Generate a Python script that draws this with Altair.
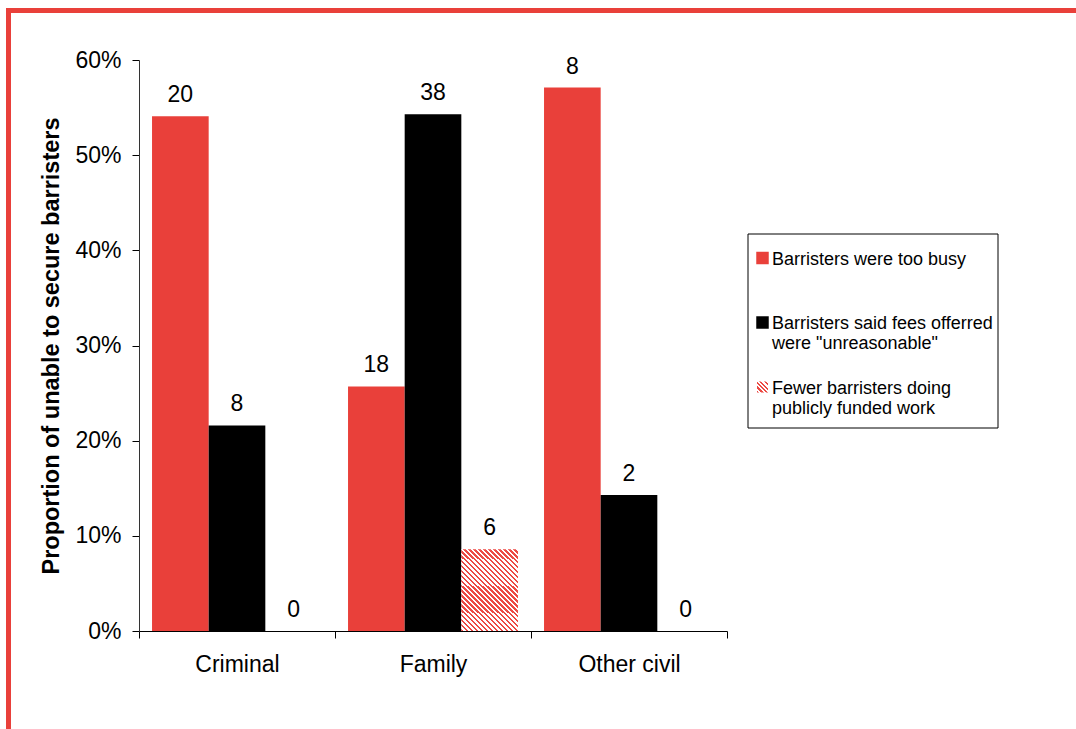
import altair as alt
import pandas as pd

categories = ["Criminal", "Family", "Other civil"]
series = [
    "Barristers were too busy",
    "Barristers said fees offerred were \"unreasonable\"",
    "Fewer barristers doing publicly funded work",
]
legend_labels = [
    "Barristers were too busy",
    "Barristers said fees offerred\nwere \"unreasonable\"",
    "Fewer barristers doing\npublicly funded work",
]
busy_pct = [0.541, 0.257, 0.571]
fees_pct = [0.216, 0.543, 0.143]
fewer_pct = [0.0, 0.086, 0.0]
busy_n = [20, 18, 8]
fees_n = [8, 38, 2]
fewer_n = [0, 6, 0]
y_ticks = [0, 0.1, 0.2, 0.3, 0.4, 0.5, 0.6]

RED = "#E9403A"
HATCH_RED = "#EC4A44"
FONT = "Liberation Sans"

rows = []
for i, c in enumerate(categories):
    for s, vals, ns in zip(series, [busy_pct, fees_pct, fewer_pct], [busy_n, fees_n, fewer_n]):
        rows.append({"cat": c, "series": s, "value": vals[i], "count": str(ns[i])})
df = pd.DataFrame(rows)
leg = pd.DataFrame({"series": series, "label": legend_labels, "order": [0, 1, 2]})


def stripes(n):
    stops = []
    for i in range(n):
        a, m, b = i / n, (i + 0.5) / n, (i + 1) / n
        stops += [
            alt.GradientStop(color=HATCH_RED, offset=a),
            alt.GradientStop(color=HATCH_RED, offset=m),
            alt.GradientStop(color="#ffffff", offset=m),
            alt.GradientStop(color="#ffffff", offset=b),
        ]
    return stops


grad_bar = alt.LinearGradient(gradient="linear", x1=0, y1=1, x2=0.781, y2=-0.149, stops=stripes(28))
grad_sq = alt.LinearGradient(gradient="linear", x1=0, y1=1, x2=1, y2=0, stops=stripes(5))

x_enc = alt.X(
    "cat:N",
    sort=categories,
    scale=alt.Scale(paddingInner=0, paddingOuter=0),
    axis=alt.Axis(
        title=None, labelAngle=0, tickBand="extent", tickSize=7, tickColor="#000",
        domainColor="#000", labelFontSize=23, labelFont=FONT, labelColor="#000",
        labelPadding=15,
    ),
)
xo_enc = alt.XOffset("series:N", sort=series,
                     scale=alt.Scale(domain=series, paddingInner=0, paddingOuter=0.23))
y_enc = alt.Y(
    "value:Q",
    scale=alt.Scale(domain=[0, 0.6], nice=False),
    axis=alt.Axis(
        values=y_ticks, format=".0%", title="Proportion of unable to secure barristers",
        titleFontSize=23.5, titleFont=FONT, titleFontWeight="bold", titleColor="#000",
        titlePadding=11, labelFontSize=23, labelFont=FONT, labelColor="#000",
        labelPadding=11, tickSize=7, tickColor="#000", domainColor="#333", grid=False,
    ),
)
fill_scale = alt.Scale(domain=series[:2], range=[RED, "#000000"])

base = alt.Chart(df)
bars = base.transform_filter(alt.datum.series != series[2]).mark_bar().encode(
    x=x_enc, xOffset=xo_enc, y=y_enc,
    fill=alt.Fill("series:N", scale=fill_scale, legend=None),
)
hatch = base.transform_filter(alt.datum.series == series[2]).mark_bar(fill=grad_bar).encode(
    x=x_enc, xOffset=xo_enc, y=y_enc,
)
labels = base.mark_text(fontSize=23, font=FONT, color="#000", baseline="alphabetic", dy=-14).encode(
    x=x_enc, xOffset=xo_enc, y=y_enc, text="count:N",
)
main = alt.layer(bars, hatch, labels)

legend_y = alt.Y("order:Q", scale=alt.Scale(domain=[0, 2], range=[198, 327]), axis=None)
leg_base = alt.Chart(leg)
box = leg_base.transform_filter(alt.datum.order == 0).mark_rect(
    fill="white", stroke="#000", strokeWidth=1
).encode(x=alt.value(609), x2=alt.value(859), y=alt.value(174), y2=alt.value(368))
sq = leg_base.transform_filter(alt.datum.order < 2).mark_square(size=156, opacity=1).encode(
    x=alt.value(623.5), y=legend_y,
    fill=alt.Fill("series:N", scale=fill_scale, legend=None),
)
sq_h = leg_base.transform_filter(alt.datum.order == 2).mark_square(size=121, opacity=1, fill=grad_sq).encode(
    x=alt.value(623.5), y=legend_y,
)
leg_text = leg_base.mark_text(
    fontSize=18, font=FONT, color="#000", align="left", baseline="alphabetic",
    dy=6.5, lineBreak="\n", lineHeight=20,
).encode(x=alt.value(633), y=legend_y, text="label:N")
legend = alt.layer(box, sq, sq_h, leg_text)

top_rule = alt.Chart(leg).transform_filter(alt.datum.order == 0).mark_rule(color=RED, strokeWidth=5).encode(
    x=alt.value(-133), x2=alt.value(937), y=alt.value(-49.5)
)
left_rule = alt.Chart(leg).transform_filter(alt.datum.order == 0).mark_rule(color=RED, strokeWidth=5).encode(
    x=alt.value(-130.5), y=alt.value(-52), y2=alt.value(669)
)

chart = alt.layer(main, legend, top_rule, left_rule).resolve_scale(y="independent").properties(
    width=588, height=571,
    padding={"left": 139, "top": 60, "right": 349, "bottom": 98},
    autosize=alt.AutoSizeParams(type="none"),
    background="white",
).configure_view(stroke=None)

chart.save("out.html", embed_options={"renderer": "svg", "actions": False})
